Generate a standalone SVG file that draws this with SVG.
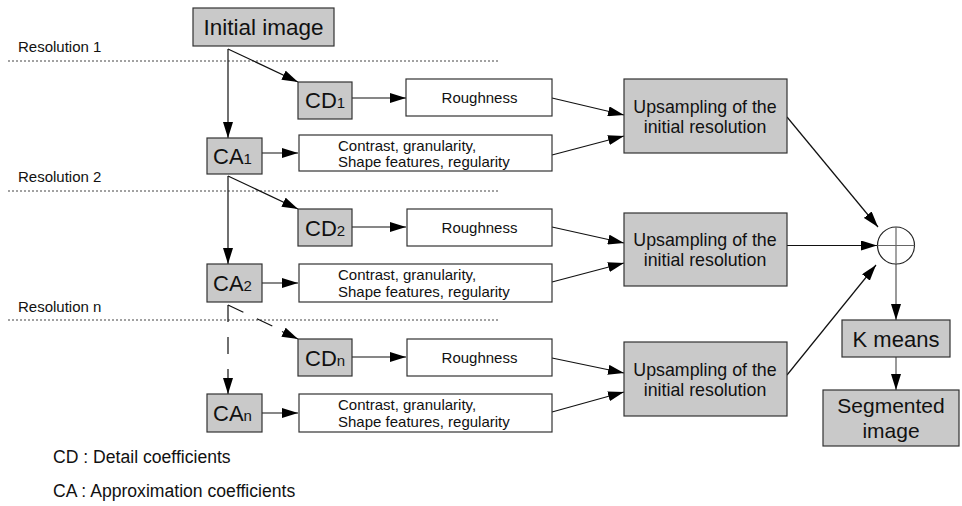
<svg xmlns="http://www.w3.org/2000/svg" width="962" height="506" viewBox="0 0 962 506">
<style>
text{font-family:"Liberation Sans",Arial,sans-serif;fill:#111}
.g{fill:#c9c9c9;stroke:#333;stroke-width:1.2}
.w{fill:#fff;stroke:#333;stroke-width:1.2}
.c{stroke:#111;stroke-width:1.2;fill:none;marker-end:url(#ah)}
.d{stroke:#111;stroke-width:1.2;fill:none;stroke-dasharray:17 15;}
.dot{stroke:#444;stroke-width:1;stroke-dasharray:2 2;fill:none}
.res{font-size:15px}
.big{font-size:22px;text-anchor:middle}
.sub{font-size:15px}
.f{font-size:15px;text-anchor:middle}
.f2{font-size:15px}
.up{font-size:17.8px;text-anchor:middle}
.leg{font-size:17.6px}
</style>
<defs>
<marker id="ah" markerUnits="userSpaceOnUse" markerWidth="16" markerHeight="10" refX="16" refY="5" orient="auto">
<path d="M0,0 L16,5 L0,10 z" fill="#000"/>
</marker>
</defs>
<g id="separators">
<text class="res" x="18" y="52">Resolution 1</text>
<line class="dot" x1="8" y1="61" x2="498" y2="61"/>
<text class="res" x="18" y="182">Resolution 2</text>
<line class="dot" x1="8" y1="191" x2="498" y2="191"/>
<text class="res" x="18" y="312">Resolution n</text>
<line class="dot" x1="8" y1="320" x2="498" y2="320"/>
</g>
<g id="connectors">
<line class="c" x1="228" y1="49" x2="228" y2="138"/>
<line class="c" x1="228" y1="49" x2="298" y2="82"/>
<line class="c" x1="352" y1="98" x2="406" y2="98"/>
<line class="c" x1="262" y1="153" x2="298" y2="153"/>
<line class="c" x1="228" y1="176" x2="228" y2="264"/>
<line class="c" x1="228" y1="176" x2="298" y2="209"/>
<line class="c" x1="352" y1="227" x2="406" y2="227"/>
<line class="c" x1="262" y1="283" x2="298" y2="283"/>
<line class="d" x1="228" y1="305" x2="228" y2="378"/>
<line class="c" x1="228" y1="378" x2="228" y2="394"/>
<line class="d" x1="228" y1="305" x2="283" y2="331"/>
<line class="c" x1="282" y1="331.5" x2="298" y2="339"/>
<line class="c" x1="352" y1="357" x2="406" y2="357"/>
<line class="c" x1="262" y1="413" x2="298" y2="413"/>
<line class="c" x1="552" y1="98" x2="624" y2="115"/>
<line class="c" x1="552" y1="155" x2="624" y2="136"/>
<line class="c" x1="552" y1="227" x2="624" y2="243"/>
<line class="c" x1="552" y1="282" x2="624" y2="263"/>
<line class="c" x1="552" y1="358" x2="624" y2="373"/>
<line class="c" x1="552" y1="412" x2="624" y2="392"/>
<line class="c" x1="787" y1="117" x2="878" y2="227"/>
<line class="c" x1="787" y1="245.5" x2="877" y2="245.5"/>
<line class="c" x1="787" y1="375" x2="876" y2="265"/>
<line class="c" x1="896" y1="264" x2="896" y2="320" style="stroke:#555"/>
<line class="c" x1="896" y1="357" x2="896" y2="390" style="stroke:#555"/>
</g>
<g id="initial">
<rect class="g" x="193" y="8" width="141" height="38"/>
<text class="big" x="263.5" y="35" style="font-size:22.5px">Initial image</text>
</g>
<g id="cd1">
<rect class="g" x="298" y="82" width="54" height="37"/>
<text x="305" y="108" style="font-size:22px">CD<tspan class="sub">1</tspan></text>
</g>
<g id="rough1">
<rect class="w" x="406" y="79" width="146" height="37"/>
<text class="f" x="479.5" y="103">Roughness</text>
</g>
<g id="ca1">
<rect class="g" x="207" y="138" width="55" height="36"/>
<text x="213" y="164" style="font-size:22px">CA<tspan class="sub">1</tspan></text>
</g>
<g id="contrast1">
<rect class="w" x="299" y="135" width="253" height="36"/>
<text class="f2" x="338" y="151">Contrast, granularity,</text>
<text class="f2" x="338" y="167">Shape features, regularity</text>
</g>
<g id="cd2">
<rect class="g" x="298" y="209" width="54" height="37"/>
<text x="305" y="236" style="font-size:22px">CD<tspan class="sub">2</tspan></text>
</g>
<g id="rough2">
<rect class="w" x="407" y="209" width="145" height="37"/>
<text class="f" x="479.5" y="233">Roughness</text>
</g>
<g id="ca2">
<rect class="g" x="207" y="264" width="55" height="38"/>
<text x="213" y="291" style="font-size:22px">CA<tspan class="sub">2</tspan></text>
</g>
<g id="contrast2">
<rect class="w" x="299" y="264" width="253" height="38"/>
<text class="f2" x="338" y="280">Contrast, granularity,</text>
<text class="f2" x="338" y="297">Shape features, regularity</text>
</g>
<g id="cdn">
<rect class="g" x="298" y="339" width="54" height="37"/>
<text x="305" y="366" style="font-size:22px">CD<tspan class="sub">n</tspan></text>
</g>
<g id="roughn">
<rect class="w" x="407" y="339" width="145" height="37"/>
<text class="f" x="479.5" y="363">Roughness</text>
</g>
<g id="can">
<rect class="g" x="207" y="394" width="55" height="38"/>
<text x="213" y="421" style="font-size:22px">CA<tspan class="sub">n</tspan></text>
</g>
<g id="contrastn">
<rect class="w" x="299" y="394" width="253" height="38"/>
<text class="f2" x="338" y="410">Contrast, granularity,</text>
<text class="f2" x="338" y="427">Shape features, regularity</text>
</g>
<g id="up1">
<rect class="g" x="624" y="79" width="163" height="74"/>
<text class="up" x="705" y="113">Upsampling of the</text>
<text class="up" x="705" y="133">initial resolution</text>
</g>
<g id="up2">
<rect class="g" x="624" y="213" width="163" height="73"/>
<text class="up" x="705" y="246">Upsampling of the</text>
<text class="up" x="705" y="266">initial resolution</text>
</g>
<g id="up3">
<rect class="g" x="624" y="342" width="163" height="74"/>
<text class="up" x="705" y="376">Upsampling of the</text>
<text class="up" x="705" y="396">initial resolution</text>
</g>
<g id="sum">
<circle cx="896" cy="245.5" r="18.5" fill="#fff" stroke="#222" stroke-width="1.2"/>
<line x1="896" y1="227" x2="896" y2="264" stroke="#666" stroke-width="1.2"/>
<line x1="877.5" y1="245.5" x2="914.5" y2="245.5" stroke="#666" stroke-width="1.2"/>
</g>
<g id="kmeans">
<rect class="g" x="842" y="320" width="108" height="37"/>
<text class="big" x="896" y="347">K means</text>
</g>
<g id="segmented">
<rect class="g" x="823" y="390" width="136" height="56"/>
<text class="big" x="891" y="413" style="font-size:21px">Segmented</text>
<text class="big" x="891" y="438" style="font-size:21px">image</text>
</g>
<g id="legend">
<text class="leg" x="53" y="463">CD : Detail coefficients</text>
<text class="leg" x="53" y="497">CA : Approximation coefficients</text>
</g>
</svg>
